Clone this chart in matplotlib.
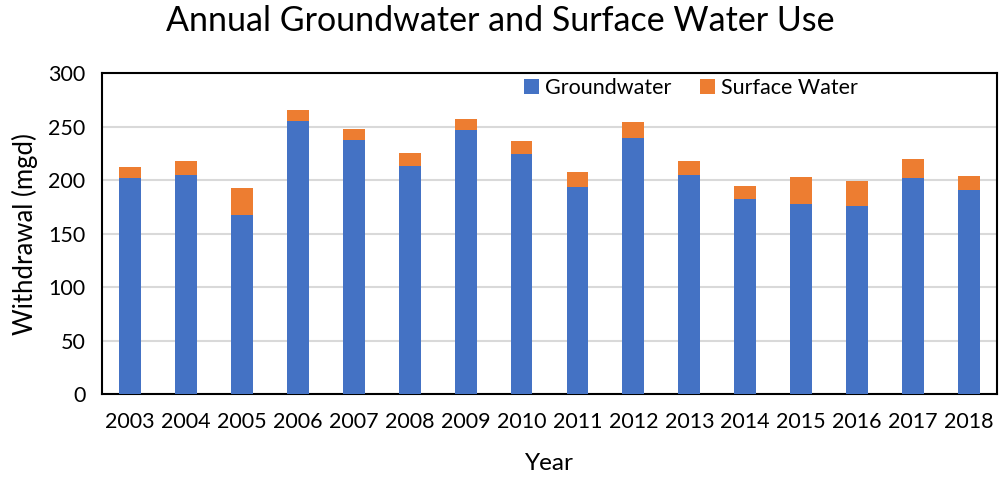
import matplotlib
matplotlib.use("Agg")
import matplotlib.pyplot as plt
import numpy as np

plt.rcParams['font.family'] = ['Lato', 'DejaVu Sans']

years = ["2003", "2004", "2005", "2006", "2007", "2008", "2009", "2010",
         "2011", "2012", "2013", "2014", "2015", "2016", "2017", "2018"]
groundwater = [202.5, 205, 167.5, 255.6, 238.1, 213.4, 247.5, 225,
               194.1, 239.6, 204.7, 182.5, 177.8, 175.9, 202.2, 190.9]
totals = [212.4, 218.1, 192.7, 265.6, 247.8, 225.3, 257.5, 237.2,
          207.5, 255, 217.8, 194.3, 203.1, 199.7, 220.3, 204]
surface = [t - g for t, g in zip(totals, groundwater)]

fig = plt.figure(figsize=(10, 4.8), dpi=100)
ax = fig.add_axes([0.102, 0.179, 0.895, 0.668])

x = np.arange(len(years))
w = 0.39
ax.bar(x, groundwater, w, color="#4472C4", label="Groundwater", zorder=3)
ax.bar(x, surface, w, bottom=groundwater, color="#ED7D31", label="Surface Water", zorder=3)

ax.set_xlim(-0.5, len(years) - 0.5)
ax.set_ylim(0, 300)
ax.set_yticks(range(0, 301, 50))
ax.set_xticks(x)
ax.set_xticklabels(years)
ax.tick_params(axis='both', length=0, labelsize=15.5, colors='black')
ax.tick_params(axis='x', pad=13)
ax.tick_params(axis='y', pad=12)
ax.yaxis.grid(True, color="#D9D9D9", linewidth=1.5, zorder=0)
for s in ax.spines.values():
    s.set_color("black")
    s.set_linewidth(1.5)

ax.set_xlabel("Year", fontsize=17.5, labelpad=15)
ax.set_ylabel("Withdrawal (mgd)", fontsize=18.5, labelpad=7)
fig.suptitle("Annual Groundwater and Surface Water Use", fontsize=24.5, y=0.99)

leg = ax.legend(loc="center", bbox_to_anchor=(0.658, 0.955), ncol=2, frameon=False,
                fontsize=15.5, handlelength=0.7, handleheight=0.7, handletextpad=0.3,
                columnspacing=1.3, borderaxespad=0)

fig.savefig("out.png", dpi=100)
